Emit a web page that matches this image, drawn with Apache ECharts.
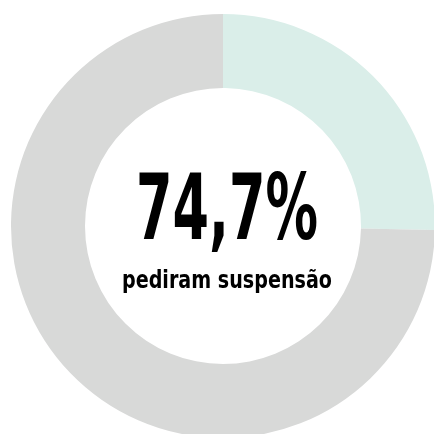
<!DOCTYPE html>
<html>
<head>
<meta charset="utf-8">
<script src="https://cdn.jsdelivr.net/npm/echarts@6/dist/echarts.min.js"></script>
<style>
  html, body { margin: 0; padding: 0; background: #fff; }
  #main { width: 434px; height: 434px; }
</style>
</head>
<body>
<div id="main"></div>
<script>
// slices: the rest first (from 12 o'clock clockwise), then the highlighted share
const labels = ["outros", "pediram suspensão"];
const values = [25.3, 74.7];
const colors = ["#daeee9", "#d8d9d8"];
const bigText = "74,7%";
const subText = "pediram suspensão";

const bigFont = "bold 90px 'DejaVu Sans Condensed', sans-serif";
const subFont = "bold 24px 'DejaVu Sans Condensed', sans-serif";

// squeeze the text to the narrow widths of the original lettering
const ctx = document.createElement("canvas").getContext("2d");
function fitScale(text, font, width) {
  ctx.font = font;
  return width / ctx.measureText(text).width;
}

const chart = echarts.init(document.getElementById("main"));

const option = {
  animation: false,
  series: [
    {
      type: "pie",
      center: [223, 226],
      radius: [138, 212],
      startAngle: 90,
      clockwise: true,
      silent: true,
      label: { show: false },
      labelLine: { show: false },
      itemStyle: { borderWidth: 0 },
      data: labels.map((name, i) => ({
        name: name,
        value: values[i],
        itemStyle: { color: colors[i] },
      })),
    },
  ],
  graphic: [
    {
      type: "text",
      z: 100,
      x: 227,
      y: 216,
      scaleX: fitScale(bigText, bigFont, 182),
      style: {
        text: bigText,
        font: bigFont,
        fill: "#000",
        textAlign: "center",
        textVerticalAlign: "middle",
      },
    },
    {
      type: "text",
      z: 100,
      x: 227,
      y: 282,
      scaleX: fitScale(subText, subFont, 210),
      style: {
        text: subText,
        font: subFont,
        fill: "#000",
        textAlign: "center",
        textVerticalAlign: "middle",
      },
    },
  ],
};

chart.setOption(option);
</script>
</body>
</html>
